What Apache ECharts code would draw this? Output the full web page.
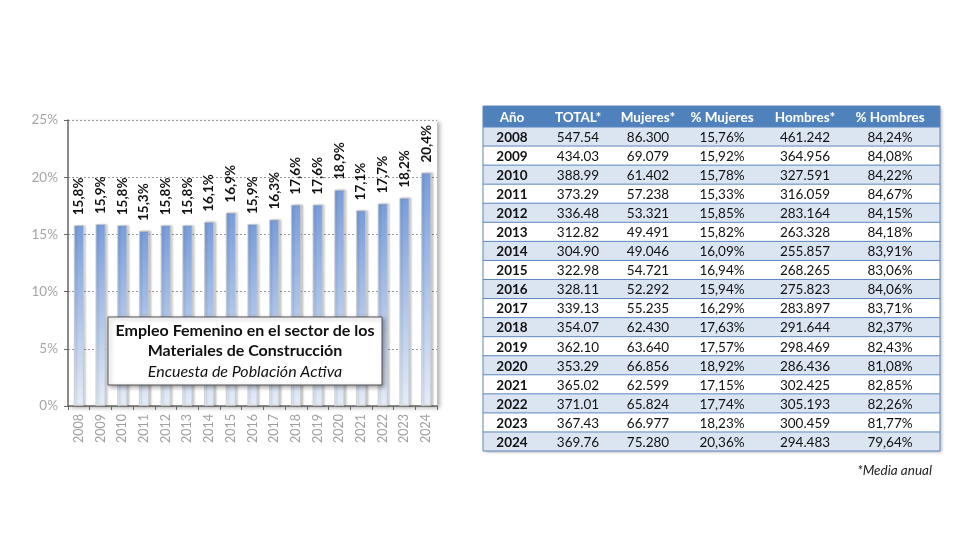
<!DOCTYPE html>
<html>
<head>
<meta charset="utf-8">
<script src="https://cdn.jsdelivr.net/npm/echarts@6/dist/echarts.min.js"></script>
<style>html,body{margin:0;padding:0;background:#fff;}#c{width:980px;height:560px;}</style>
</head>
<body>
<div id="c"></div>
<script>
const years = ['2008','2009','2010','2011','2012','2013','2014','2015','2016','2017','2018','2019','2020','2021','2022','2023','2024'];
const chartPct = [15.8,15.9,15.8,15.3,15.8,15.8,16.1,16.9,15.9,16.3,17.6,17.6,18.9,17.1,17.7,18.2,20.4];
const yTicks = [0,5,10,15,20,25];
const tableHeaders = ['Año','TOTAL*','Mujeres*','% Mujeres','Hombres*','% Hombres'];
const totalCol = ['547.54','434.03','388.99','373.29','336.48','312.82','304.90','322.98','328.11','339.13','354.07','362.10','353.29','365.02','371.01','367.43','369.76'];
const mujeresCol = ['86.300','69.079','61.402','57.238','53.321','49.491','49.046','54.721','52.292','55.235','62.430','63.640','66.856','62.599','65.824','66.977','75.280'];
const pctMujeresCol = ['15,76%','15,92%','15,78%','15,33%','15,85%','15,82%','16,09%','16,94%','15,94%','16,29%','17,63%','17,57%','18,92%','17,15%','17,74%','18,23%','20,36%'];
const hombresCol = ['461.242','364.956','327.591','316.059','283.164','263.328','255.857','268.265','275.823','283.897','291.644','298.469','286.436','302.425','305.193','300.459','294.483'];
const pctHombresCol = ['84,24%','84,08%','84,22%','84,67%','84,15%','84,18%','83,91%','83,06%','84,06%','83,71%','82,37%','82,43%','81,08%','82,85%','82,26%','81,77%','79,64%'];
const boxLines = ['Empleo Femenino en el sector de los','Materiales de Construcción','Encuesta de Población Activa'];
const footnote = '*Media anual';

const chart = echarts.init(document.getElementById('c'));

// table graphics
const T = {x:483, y:106, w:457, hh:21, rh:19.06};
const colCenters = [512, 578, 648, 722, 805, 890];
const g = [];
g.push({type:'rect', silent:true, shape:{x:T.x, y:T.y, width:T.w, height:T.hh + years.length*T.rh}, style:{fill:'#fff', shadowBlur:3, shadowColor:'rgba(0,0,0,0.25)', shadowOffsetX:2, shadowOffsetY:2}});
g.push({type:'rect', silent:true, shape:{x:T.x, y:T.y, width:T.w, height:T.hh}, style:{fill:'#4f81bd'}});
tableHeaders.forEach((h,i)=>{
  g.push({type:'text', silent:true, x:colCenters[i], y:T.y+T.hh/2+1, style:{text:h, fill:'#fff', fontFamily:'Lato', fontWeight:'bold', fontSize:13.5, align:'center', verticalAlign:'middle'}});
});
const cols = [years, totalCol, mujeresCol, pctMujeresCol, hombresCol, pctHombresCol];
years.forEach((yr,r)=>{
  const ry = T.y + T.hh + r*T.rh;
  g.push({type:'rect', silent:true, shape:{x:T.x, y:ry, width:T.w, height:T.rh}, style:{fill: r%2===0 ? '#dbe5f1' : '#ffffff'}});
  g.push({type:'line', silent:true, shape:{x1:T.x, y1:ry, x2:T.x+T.w, y2:ry}, style:{stroke:'#5b86c0', lineWidth:1}});
  cols.forEach((col,c)=>{
    g.push({type:'text', silent:true, x:colCenters[c], y:ry+T.rh/2+1, style:{text:col[r], fill:'#111', fontFamily:'Lato', fontWeight: c===0?'bold':'normal', fontSize:13.5, align:'center', verticalAlign:'middle'}});
  });
});
g.push({type:'rect', silent:true, shape:{x:T.x, y:T.y, width:T.w, height:T.hh + years.length*T.rh}, style:{fill:'none', stroke:'#5b86c0', lineWidth:1}});
g.push({type:'text', silent:true, x:932, y:471, style:{text:footnote, fill:'#222', fontFamily:'Lato', fontStyle:'italic', fontSize:13.5, align:'right', verticalAlign:'middle'}});

// text box
g.push({type:'rect', silent:true, z:100, shape:{x:108, y:317, width:274, height:68}, style:{fill:'#fff', stroke:'#555', lineWidth:1, shadowBlur:4, shadowColor:'rgba(0,0,0,0.35)', shadowOffsetX:2, shadowOffsetY:2}});
g.push({type:'text', silent:true, z:101, x:245, y:331, style:{text:boxLines[0], fill:'#111', fontFamily:'Lato', fontWeight:'bold', fontSize:16, align:'center', verticalAlign:'middle'}});
g.push({type:'text', silent:true, z:101, x:245, y:351, style:{text:boxLines[1], fill:'#111', fontFamily:'Lato', fontWeight:'bold', fontSize:16, align:'center', verticalAlign:'middle'}});
g.push({type:'text', silent:true, z:101, x:245, y:372, style:{text:boxLines[2], fill:'#111', fontFamily:'Lato', fontStyle:'italic', fontSize:16, align:'center', verticalAlign:'middle'}});

chart.setOption({
  animation:false,
  backgroundColor:'#fff',
  grid:{left:68, right:543, top:120, bottom:154, show:true, backgroundColor:'#fff', borderWidth:0,
        shadowColor:'rgba(0,0,0,0.3)', shadowBlur:4, shadowOffsetX:3, shadowOffsetY:2},
  xAxis:{type:'category', data:years,
    axisLine:{lineStyle:{color:'#666', width:1.5}},
    axisTick:{show:true, length:4, lineStyle:{color:'#666'}},
    axisLabel:{rotate:90, color:'#a0a0a0', fontFamily:'Lato', fontSize:12.5, margin:8}},
  yAxis:{type:'value', min:yTicks[0], max:yTicks[yTicks.length-1], interval:5,
    axisLine:{show:true, lineStyle:{color:'#666', width:1.5}},
    axisTick:{show:true, length:4, lineStyle:{color:'#666'}},
    axisLabel:{formatter:'{value}%', color:'#a6a6a6', fontFamily:'Lato', fontSize:13.5, margin:10},
    splitLine:{show:true, lineStyle:{color:'#999', type:[2,2], width:1}}},
  series:[{
    type:'bar', data:chartPct, barWidth:10,
    itemStyle:{
      color:new echarts.graphic.LinearGradient(0,0,0,1,[{offset:0,color:'#789ddb'},{offset:1,color:'#e4ecf8'}]),
      borderColor:'#c8c8c8', borderWidth:0.8,
      shadowColor:'rgba(0,0,0,0.2)', shadowBlur:2, shadowOffsetX:2, shadowOffsetY:0
    },
    label:{show:true, position:'top', rotate:90, align:'left', verticalAlign:'middle', distance:10,
      formatter:p=>p.value.toFixed(1).replace('.',',')+'%',
      color:'#111', fontFamily:'Lato', fontWeight:'bold', fontSize:13.5}
  }],
  graphic:g
});
</script>
</body>
</html>
